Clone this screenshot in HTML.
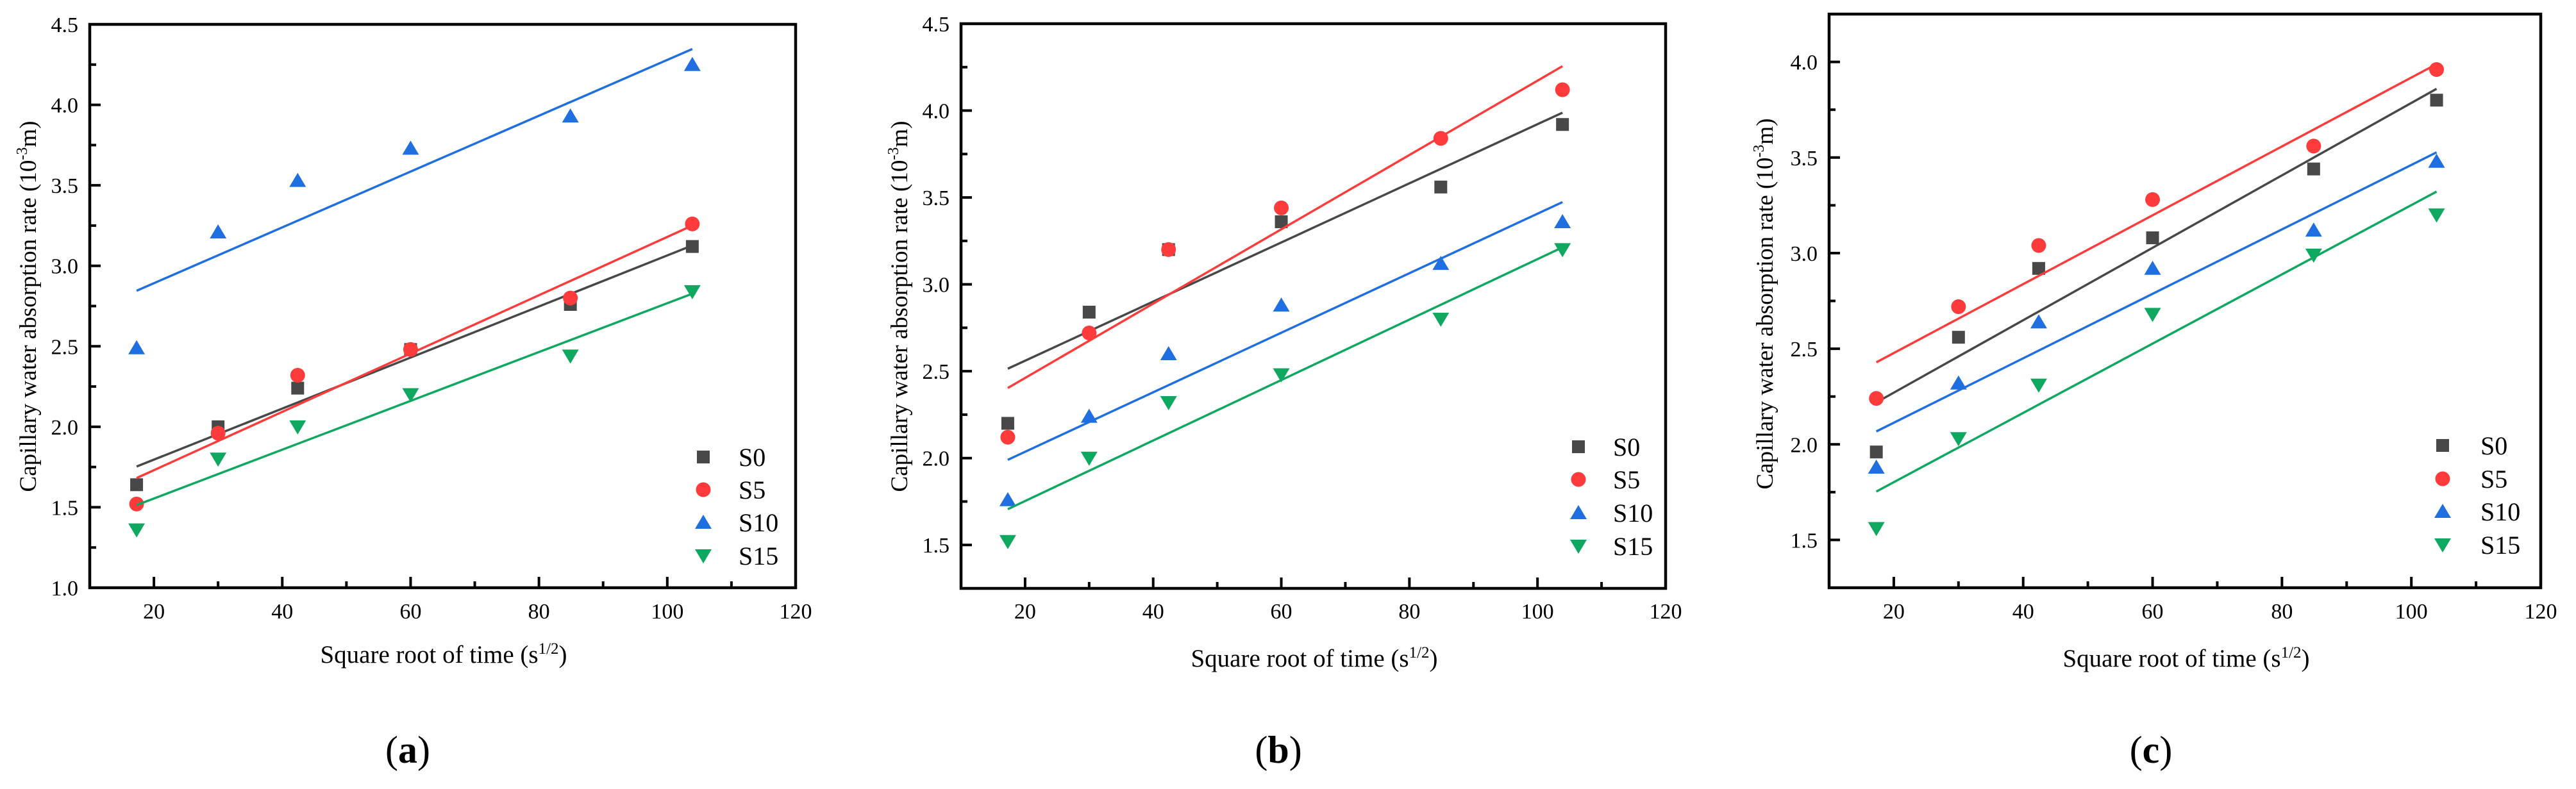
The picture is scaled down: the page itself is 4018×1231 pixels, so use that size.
<!DOCTYPE html>
<html><head><meta charset="utf-8"><style>
html,body{margin:0;padding:0;background:#fff;}
svg{display:block;}
svg text{font-family:"Liberation Serif","DejaVu Serif",serif;}
</style></head><body>
<svg id="fig" width="4018" height="1231" viewBox="0 0 4018 1231" xmlns="http://www.w3.org/2000/svg"></svg>
<script>
const xValues = [17.3, 30, 42.4, 60, 84.9, 103.9];
const seriesNames = ["S0", "S5", "S10", "S15"];
const a_S0 = [1.64, 2.00, 2.24, 2.48, 2.76, 3.12];
const a_S5 = [1.52, 1.96, 2.32, 2.48, 2.80, 3.26];
const a_S10 = [2.49, 3.21, 3.53, 3.73, 3.93, 4.25];
const a_S15 = [1.36, 1.80, 2.00, 2.20, 2.44, 2.84];
const b_S0 = [2.20, 2.84, 3.20, 3.36, 3.56, 3.92];
const b_S5 = [2.12, 2.72, 3.20, 3.44, 3.84, 4.12];
const b_S10 = [1.76, 2.24, 2.60, 2.88, 3.12, 3.36];
const b_S15 = [1.52, 2.00, 2.32, 2.48, 2.80, 3.20];
const c_S0 = [1.96, 2.56, 2.92, 3.08, 3.44, 3.80];
const c_S5 = [2.24, 2.72, 3.04, 3.28, 3.56, 3.96];
const c_S10 = [1.88, 2.32, 2.64, 2.92, 3.12, 3.48];
const c_S15 = [1.56, 2.03, 2.31, 2.68, 2.99, 3.20];
const xTicks = [20, 40, 60, 80, 100, 120];
const a_yTicks = [1.0, 1.5, 2.0, 2.5, 3.0, 3.5, 4.0, 4.5];
const b_yTicks = [1.5, 2.0, 2.5, 3.0, 3.5, 4.0, 4.5];
const c_yTicks = [1.5, 2.0, 2.5, 3.0, 3.5, 4.0];
const panelLabels = ["a", "b", "c"];

const colors = ["#484848", "#ff3b3b", "#1f6fe0", "#0fa860"];
const NS = "http://www.w3.org/2000/svg";
const FONT = '"Liberation Serif", "DejaVu Serif", serif';
const svg = document.getElementById("fig");
function mk(tag, attrs, parent) {
  const e = document.createElementNS(NS, tag);
  for (const k in attrs) e.setAttribute(k, attrs[k]);
  if (tag === "text") e.setAttribute("font-family", FONT);
  (parent || svg).appendChild(e);
  return e;
}

const panels = [
  {key:"a", data:[a_S0,a_S5,a_S10,a_S15], yTicks:a_yTicks, L:140, R:1241, T:38, B:917, xmin:10, xmax:120, ymin:1.0, ymax:4.5,
   ylx:43, yly:478, xlx:692, xly:1034, plx:636, legMx:1097, legTx:1152, legY:[713,764,815,867]},
  {key:"b", data:[b_S0,b_S5,b_S10,b_S15], yTicks:b_yTicks, L:1499, R:2598, T:37, B:918, xmin:10, xmax:120, ymin:1.25, ymax:4.5,
   ylx:1402, yly:478, xlx:2050, xly:1040, plx:1994, legMx:2462, legTx:2516, legY:[697,748,800,852]},
  {key:"c", data:[c_S0,c_S5,c_S10,c_S15], yTicks:c_yTicks, L:2853, R:3963, T:22, B:917, xmin:10, xmax:120, ymin:1.25, ymax:4.25,
   ylx:2752, yly:474, xlx:3410, xly:1040, plx:3355, legMx:3810, legTx:3869, legY:[695,747,798,850]}
];

function marker(kind, cx, cy, color, g) {
  let m;
  if (kind === 0) m = mk("rect", {x:cx-10, y:cy-10, width:20, height:20, fill:color}, g);
  else if (kind === 1) m = mk("circle", {cx:cx, cy:cy, r:11.5, fill:color}, g);
  else if (kind === 2) m = mk("polygon", {points:`${cx},${cy-12} ${cx-13},${cy+10} ${cx+13},${cy+10}`, fill:color}, g);
  else m = mk("polygon", {points:`${cx},${cy+12} ${cx-13},${cy-10} ${cx+13},${cy-10}`, fill:color}, g);
  return m;
}

panels.forEach((p, pi) => {
  const g = mk("g", {});
  
  
  const sx = v => p.L + (v - p.xmin) / (p.xmax - p.xmin) * (p.R - p.L);
  const sy = v => p.B - (v - p.ymin) / (p.ymax - p.ymin) * (p.B - p.T);

  const tg = mk("g", {stroke:"#000", "stroke-width":4}, g);
  
  
  for (let v = 20; v <= 110; v += 10) {
    const major = v % 20 === 0;
    mk("line", {x1:sx(v), x2:sx(v), y1:p.B, y2:p.B-(major?17:10)}, tg);
  }
  const yStep = 0.25;
  for (let v = Math.ceil(p.ymin/yStep)*yStep; v <= p.ymax+1e-9; v += yStep) {
    const major = Math.abs(v*2 - Math.round(v*2)) < 1e-6;
    mk("line", {x1:p.L, x2:p.L+(major?17:10), y1:sy(v), y2:sy(v)}, tg);
  }
  xTicks.forEach(v => {
    const t = mk("text", {x:sx(v), y:965, "font-size":34, "text-anchor":"middle", fill:"#000"}, g);
    t.textContent = v;
    
    
  });
  p.yTicks.forEach(v => {
    const t = mk("text", {x:p.L-18, y:sy(v)+12, "font-size":34, "text-anchor":"end", fill:"#000"}, g);
    t.textContent = v.toFixed(1);
    
    
  });

  p.data.forEach((ys, si) => {
    const sg = mk("g", {}, g);
    
    
    const n = xValues.length;
    const mx = xValues.reduce((a,b)=>a+b,0)/n, my = ys.reduce((a,b)=>a+b,0)/n;
    let num=0, den=0;
    for (let i=0;i<n;i++){num+=(xValues[i]-mx)*(ys[i]-my);den+=(xValues[i]-mx)**2;}
    const k=num/den, b0=my-k*mx;
    const x0=xValues[0], x1=xValues[n-1];
    const ln = mk("line", {x1:sx(x0), y1:sy(k*x0+b0), x2:sx(x1), y2:sy(k*x1+b0), stroke:colors[si], "stroke-width":3.5}, sg);
    
    
    ys.forEach((v, i) => {
      const m = marker(si, sx(xValues[i]), sy(v), colors[si], sg);
      
      
    });
  });

  const fr = mk("rect", {x:p.L, y:p.T, width:p.R-p.L, height:p.B-p.T, fill:"none", stroke:"#000", "stroke-width":4.5}, g);
  
  

  const lg = mk("g", {}, g);
  
  
  seriesNames.forEach((nm, si) => {
    const eg = mk("g", {}, lg);
    
    
    marker(si, p.legMx, p.legY[si], colors[si], eg);
    const t = mk("text", {x:p.legTx, y:p.legY[si]+14, "font-size":40, fill:"#000"}, eg);
    t.textContent = nm;
  });

  const yt = mk("text", {x:0, y:0, "font-size":37, "text-anchor":"middle", fill:"#000", transform:`translate(${p.ylx+13},${p.yly}) rotate(-90)`}, g);
  
  
  yt.innerHTML = 'Capillary water absorption rate (10<tspan dy="-14" font-size="24">-3</tspan><tspan dy="14">m)</tspan>';
  const xt = mk("text", {x:p.xlx, y:p.xly, "font-size":39, "text-anchor":"middle", fill:"#000"}, g);
  
  
  xt.innerHTML = 'Square root of time (s<tspan dy="-14" font-size="25">1/2</tspan><tspan dy="14">)</tspan>';
  const pl = mk("text", {x:p.plx, y:1190, "font-size":60, "text-anchor":"middle", fill:"#000"}, g);
  
  
  pl.innerHTML = '(<tspan font-weight="bold">' + panelLabels[pi] + '</tspan>)';
});
</script>
</body></html>
